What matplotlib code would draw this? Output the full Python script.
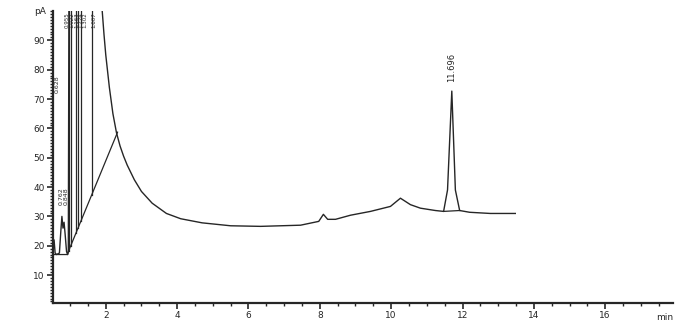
import matplotlib.pyplot as plt
from matplotlib.ticker import MultipleLocator

plt.rcParams['font.family'] = ['Liberation Sans Narrow', 'DejaVu Sans']

# FID trace (retention time in min, signal in pA)
rt = [0.52, 0.55, 0.58, 0.62, 0.70, 0.74, 0.77, 0.80, 0.83, 0.86, 0.90, 0.93,
      0.95, 0.97, 1.85, 1.90, 1.95, 2.00, 2.10, 2.20, 2.30, 2.40, 2.50, 2.60,
      2.80, 3.00, 3.30, 3.70, 4.10, 4.70, 5.50, 6.34, 7.46, 7.97, 8.10, 8.22,
      8.44, 8.86, 9.42, 9.98, 10.26, 10.54, 10.82, 11.24, 11.47, 11.58, 11.70,
      11.80, 11.92, 12.20, 12.78, 13.48]
signal = [20, 22, 17.5, 17, 17.5, 25, 30, 26, 28, 24, 18, 17,
          18, 120, 120, 100, 92, 85, 74, 65, 58.5, 54, 50.5, 47.5,
          42.5, 38.5, 34.5, 31, 29.2, 27.8, 26.8, 26.6, 27, 28.3, 30.7, 29,
          29, 30.4, 31.7, 33.4, 36.2, 34, 32.8, 32, 31.7, 39, 72.7,
          39, 32, 31.4, 31, 31]

# integration baselines
base_rt = [0.55, 0.93, 0.95, 2.33]
base_sig = [17, 17, 18, 58.7]
peak_base_rt = [11.47, 11.92]
peak_base_sig = [31.7, 32]

# drop lines in the solvent region and their retention-time labels
drop_rt = [0.955, 1.02, 1.16, 1.22, 1.30, 1.60]
drop_lbl = ['0.955', '1.022', '1.163', '1.224', '1.302', '1.607']
drop_lbl_x = [0.93, 1.06, 1.18, 1.30, 1.42, 1.66]
small_rt = [0.63, 0.76, 0.88]
small_lbl = ['0.628', '0.762', '0.848']
small_y = [72, 34, 34]

main_rt = 11.696
main_top = 72.7

fig = plt.figure(figsize=(6.75, 3.24), dpi=100)
ax = fig.add_axes([0.0785, 0.065, 0.9185, 0.901])

col = '#262626'
ax.plot(rt, signal, color=col, lw=1.0)
ax.plot(base_rt, base_sig, color=col, lw=0.9)
ax.plot(peak_base_rt, peak_base_sig, color=col, lw=0.9)

# drop lines go from the top of the frame down to the sloped baseline
x0, y0, x1, y1 = base_rt[2], base_sig[2], base_rt[3], base_sig[3]
for x in drop_rt:
    yb = y0 + (y1 - y0) * (x - x0) / (x1 - x0)
    ax.plot([x, x], [yb, 100], color=col, lw=0.9)

for x, s in zip(drop_lbl_x, drop_lbl):
    ax.text(x, 99.5, s, rotation=90, ha='center', va='top',
            fontsize=4, color=col)
for x, s, y in zip(small_rt, small_lbl, small_y):
    ax.text(x, y, s, rotation=90, ha='center', va='bottom',
            fontsize=4.5, color=col)
ax.text(main_rt, main_top + 3, '%.3f' % main_rt, rotation=90, ha='center',
        va='bottom', fontsize=6, color=col)

ax.set_xlim(0.52, 17.9)
ax.set_ylim(0.5, 100)
ax.xaxis.set_minor_locator(MultipleLocator(0.5))
ax.yaxis.set_minor_locator(MultipleLocator(1))
ax.set_yticks(range(10, 100, 10))
ax.set_xticks(range(2, 18, 2))

ax.tick_params(axis='both', which='major', direction='out', length=4,
               width=1.2, labelsize=6.5, color=col, labelcolor=col, pad=2)
ax.tick_params(axis='both', which='minor', direction='out', length=2.5,
               width=1.0, color=col)

for side in ['top', 'right']:
    ax.spines[side].set_visible(False)
for side in ['left', 'bottom']:
    ax.spines[side].set_linewidth(1.6)
    ax.spines[side].set_color(col)

ax.text(-0.012, 1.0, 'pA', transform=ax.transAxes, ha='right', va='center',
        fontsize=6.5, color=col)
ax.text(1.0, -0.035, 'min', transform=ax.transAxes, ha='right', va='top',
        fontsize=6.5, color=col)

fig.savefig('out.png', dpi=100)
